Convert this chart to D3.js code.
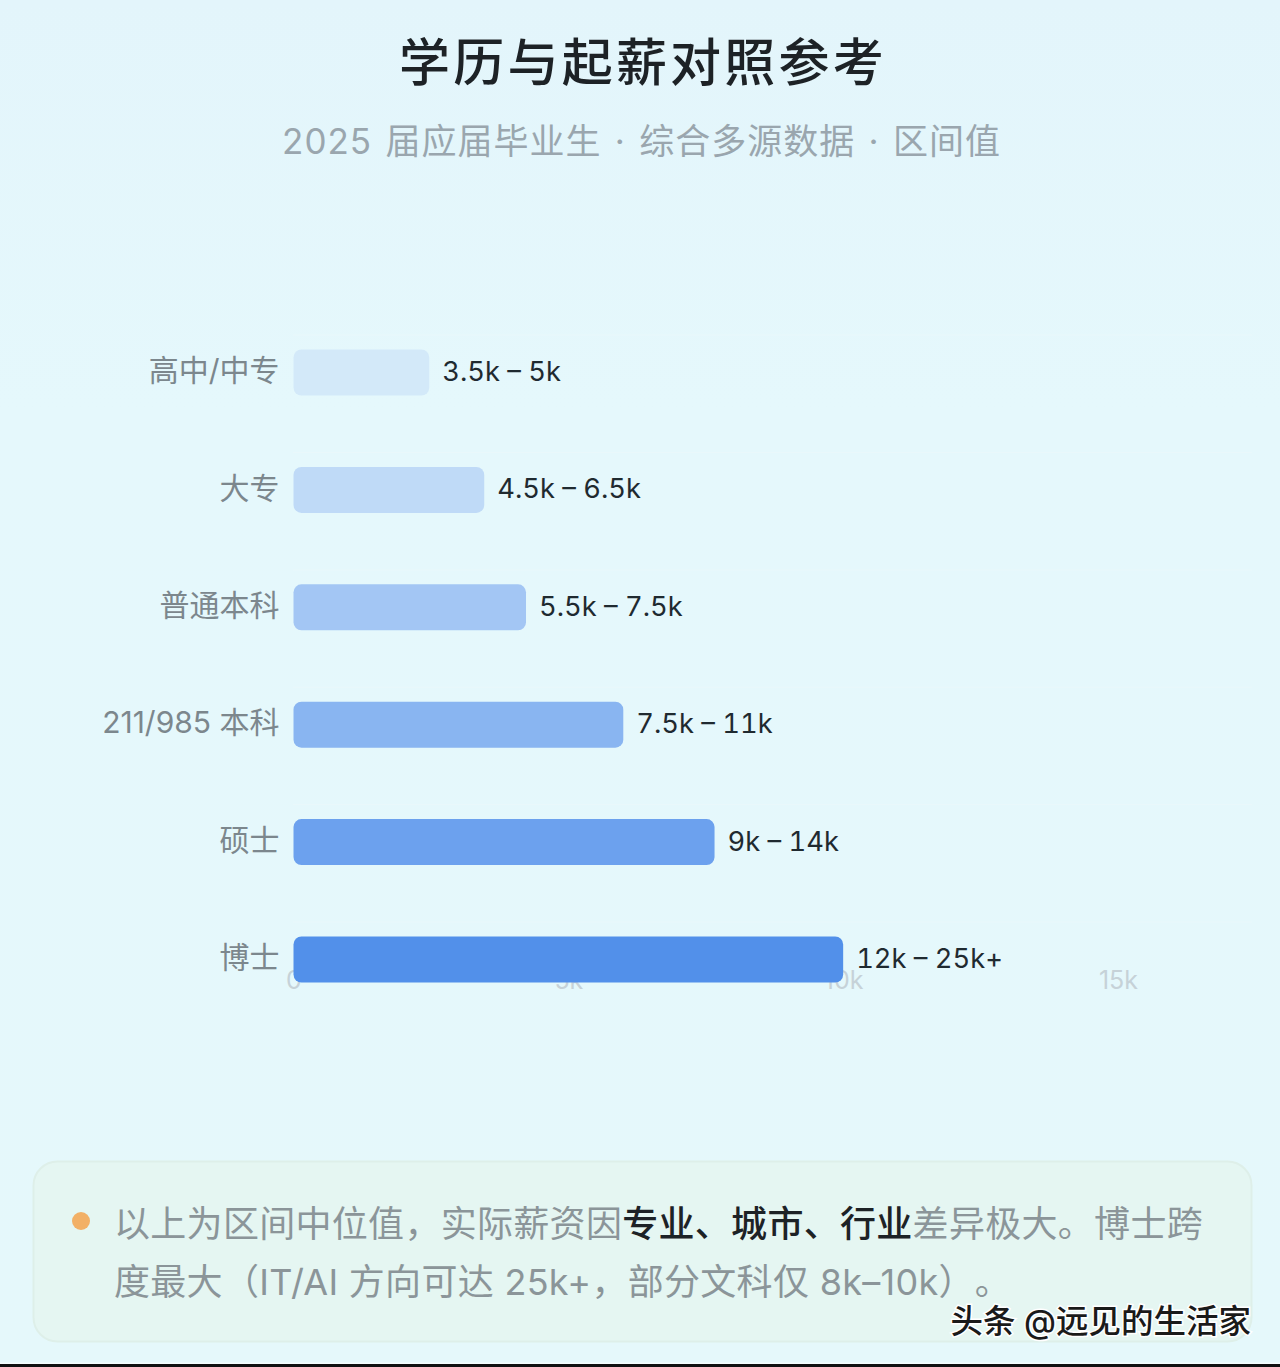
<!DOCTYPE html>
<html>
<head>
<meta charset="utf-8">
<script src="https://cdn.jsdelivr.net/npm/d3@7"></script>
<style>
  html, body { margin: 0; padding: 0; background: #e6f7fc; }
  svg { display: block; }
  text { font-family: Inter, "Noto Sans CJK SC", sans-serif; text-spacing-trim: space-all; }
  .range-label { font-variant-numeric: tabular-nums; }
</style>
</head>
<body>
<div id="chart"></div>
<script>
const categories = ["高中/中专", "大专", "普通本科", "211/985 本科", "硕士", "博士"];
const barValues = [2.47, 3.47, 4.23, 6, 7.66, 10];
const rangeLabels = ["3.5k – 5k", "4.5k – 6.5k", "5.5k – 7.5k", "7.5k – 11k", "9k – 14k", "12k – 25k+"];
const barColors = ["#d3e9f9", "#bfdaf7", "#a3c6f4", "#89b5f1", "#6ca1ee", "#5290ea"];
const xTicks = [0, 5, 10, 15];
const xTickLabels = ["0", "5k", "10k", "15k"];
const noteLine1 = [
  ["以上为区间中位值，实际薪资因", false],
  ["专业、城市、行业", true],
  ["差异极大。博士跨", false]
];
const noteLine2 = "度最大（IT/AI 方向可达 25k+，部分文科仅 8k–10k）。";

const width = 1280, height = 1367;

let svg = d3.select("#chart").append("svg")
    .attr("width", width)
    .attr("height", height);

let bg = svg.append("defs").append("linearGradient")
    .attr("id", "bg")
    .attr("x1", 0).attr("x2", 0).attr("y1", 0).attr("y2", 1);
bg.append("stop").attr("offset", 0).attr("stop-color", "#e3f5fb");
bg.append("stop").attr("offset", 0.3).attr("stop-color", "#e5f8fc");
bg.append("stop").attr("offset", 1).attr("stop-color", "#e5f8fb");

svg.append("rect").attr("width", width).attr("height", height).attr("fill", "url(#bg)");

// title
svg.append("text")
    .attr("x", 643).attr("y", 81)
    .attr("text-anchor", "middle")
    .attr("font-size", 51)
    .attr("font-weight", 500)
    .attr("letter-spacing", 3.2)
    .attr("fill", "#1d2226")
    .text("学历与起薪对照参考");

svg.append("text")
    .attr("x", 641.5).attr("y", 154)
    .attr("text-anchor", "middle")
    .attr("font-size", 35)
    .attr("letter-spacing", 1)
    .attr("word-spacing", 2.5)
    .attr("fill", "#9aa6ae")
    .text("2025 届应届毕业生 · 综合多源数据 · 区间值");

let xScale = d3.scaleLinear().domain([0, 15]).range([293.5, 1118]);

let yScale = d3.scaleBand()
    .domain(categories)
    .range([314.5, 1017.5])
    .paddingInner(71.4 / 117.4)
    .paddingOuter(35 / 117.4);

// faint row separators
svg.append("g").selectAll("line")
    .data(categories)
    .join("line")
    .attr("x1", 293)
    .attr("x2", 1252)
    .attr("y1", d => yScale(d) - 14.5)
    .attr("y2", d => yScale(d) - 14.5)
    .attr("stroke", "#e9f8fb")
    .attr("stroke-width", 1);

// x axis sits under the bars
let xAxis = d3.axisBottom(xScale)
    .tickValues(xTicks)
    .tickSize(0)
    .tickFormat((d, i) => xTickLabels[i]);

let xAxisG = svg.append("g")
    .attr("transform", "translate(0,968)")
    .call(xAxis);
xAxisG.select(".domain").remove();
xAxisG.selectAll("text")
    .attr("font-size", 25)
    .attr("fill", "#c6d2d8")
    .style("font-family", "Inter, sans-serif");

// bars
svg.append("g").selectAll("rect")
    .data(categories)
    .join("rect")
    .attr("x", xScale(0))
    .attr("y", d => yScale(d))
    .attr("width", (d, i) => xScale(barValues[i]) - xScale(0))
    .attr("height", yScale.bandwidth())
    .attr("rx", 8)
    .attr("fill", (d, i) => barColors[i]);

// category labels
svg.append("g").selectAll("text")
    .data(categories)
    .join("text")
    .attr("x", 279.5)
    .attr("y", d => yScale(d) + yScale.bandwidth() / 2 - 1)
    .attr("dy", "0.32em")
    .attr("text-anchor", "end")
    .attr("font-size", 30)
    .attr("fill", "#7c878d")
    .text(d => d);

// range labels
svg.append("g").selectAll("text")
    .data(rangeLabels)
    .join("text")
    .attr("class", "range-label")
    .attr("x", (d, i) => xScale(barValues[i]) + 13)
    .attr("y", (d, i) => yScale(categories[i]) + yScale.bandwidth() / 2 - 1)
    .attr("dy", "0.35em")
    .attr("font-size", 27.3)
    .attr("fill", "#1f2a30")
    .text(d => d);

// note box
svg.append("rect")
    .attr("x", 33.5).attr("y", 1161.5)
    .attr("width", 1218).attr("height", 180)
    .attr("rx", 24)
    .attr("fill", "#e5f6f2")
    .attr("stroke", "#deefe9")
    .attr("stroke-width", 2);

svg.append("circle")
    .attr("cx", 81).attr("cy", 1221).attr("r", 9)
    .attr("fill", "#f2b066");

let note1 = svg.append("text")
    .attr("x", 114).attr("y", 1237)
    .attr("font-size", 36)
    .attr("letter-spacing", 0.3)
    .attr("fill", "#8b9599");
note1.selectAll("tspan")
    .data(noteLine1)
    .join("tspan")
    .attr("fill", d => d[1] ? "#1d2226" : "#8b9599")
    .attr("font-weight", d => d[1] ? 500 : 400)
    .text(d => d[0]);

svg.append("text")
    .attr("x", 114).attr("y", 1295)
    .attr("font-size", 36)
    .attr("letter-spacing", 0.3)
    .attr("fill", "#8b9599")
    .text(noteLine2);

// watermark
svg.append("text")
    .attr("x", 1251).attr("y", 1333)
    .attr("text-anchor", "end")
    .attr("font-size", 32.5)
    .attr("font-weight", 500)
    .attr("fill", "#1a1a1a")
    .attr("stroke", "#ffffff")
    .attr("stroke-width", 3)
    .attr("paint-order", "stroke")
    .text("头条 @远见的生活家");

// dark strip along the bottom edge of the screenshot
svg.append("rect")
    .attr("x", 0).attr("y", 1362.5)
    .attr("width", width).attr("height", 1.5)
    .attr("fill", "#f4fcfd");
svg.append("rect")
    .attr("x", 0).attr("y", 1364)
    .attr("width", width).attr("height", 3)
    .attr("fill", "#111111");
</script>
</body>
</html>
